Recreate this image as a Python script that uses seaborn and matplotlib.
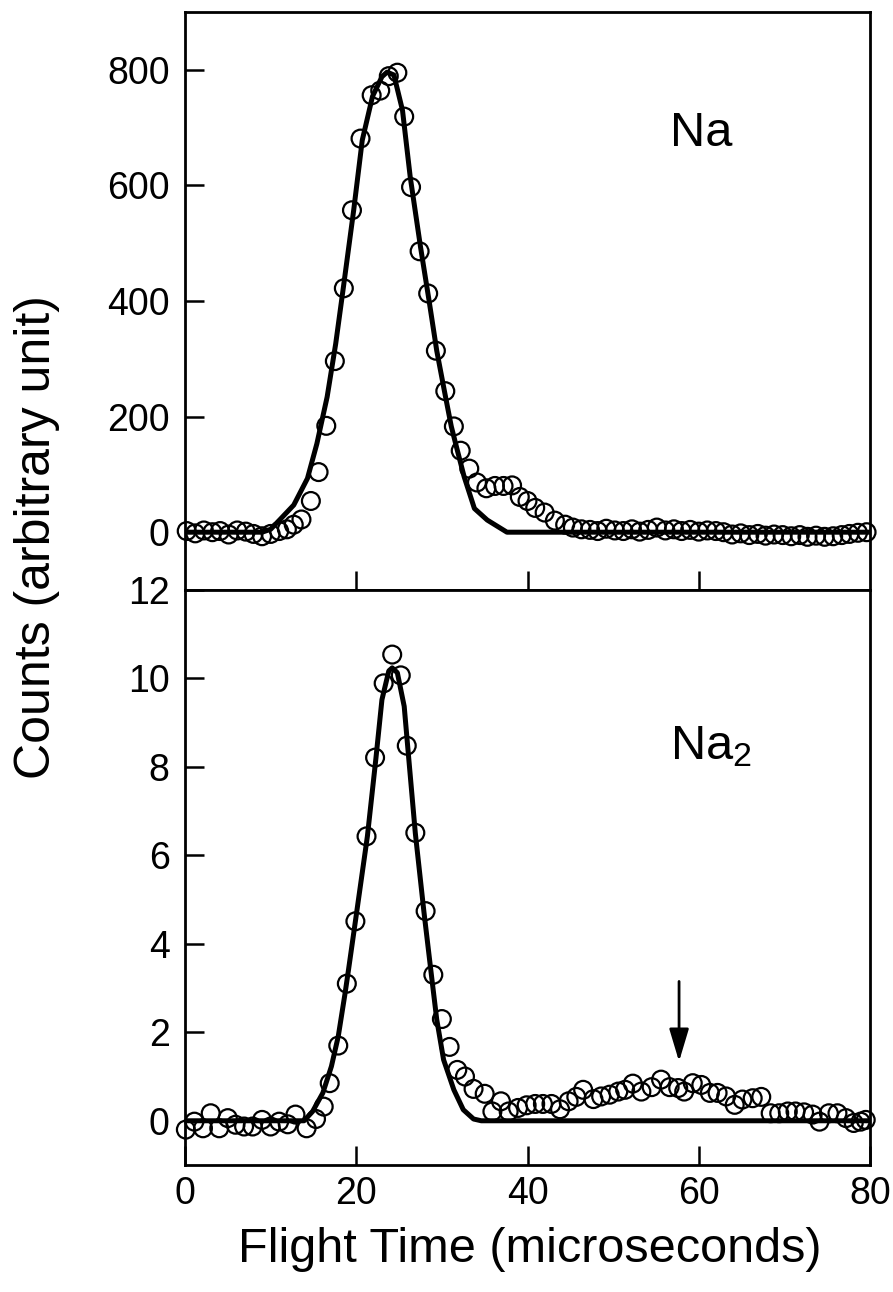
import matplotlib
matplotlib.use("Agg")
import matplotlib.pyplot as plt
import seaborn as sns
import pandas as pd

# ---------------- data ----------------
# Na (top panel): measured points
na_t = [0.2, 1.2, 2.2, 3.2, 4.1, 5.1, 6.1, 7.1, 8.0, 9.0, 10.0, 11.0, 11.9, 12.7,
        13.6, 14.7, 15.6, 16.5, 17.5, 18.55, 19.5, 20.5, 21.8, 22.8, 23.8, 24.8,
        25.6, 26.4, 27.4, 28.4, 29.3, 30.4, 31.4, 32.2, 33.2, 34.1, 35.2, 36.2,
        37.2, 38.2, 39.1, 40.0, 40.9, 42.0, 43.2, 44.4, 45.3, 46.3, 47.3, 48.2,
        49.2, 50.2, 51.2, 52.2, 53.1, 54.1, 55.1, 56.1, 57.1, 58.0, 59.0, 60.0,
        61.0, 62.0, 62.9, 63.9, 64.9, 65.9, 66.9, 67.8, 68.8, 69.8, 70.8, 71.8,
        72.7, 73.7, 74.7, 75.7, 76.7, 77.6, 78.6, 79.6]
na_counts = [2, -2, 3, 0, 2, -4, 3, 1, -3, -7, -3, 2, 5, 13,
             22, 54, 104, 184, 296, 422, 557, 681, 756, 764, 789, 795,
             719, 597, 486, 413, 314, 244, 183, 141, 110, 86, 76, 80,
             80, 81, 61, 54, 42, 34, 20, 13, 8, 5, 4, 2,
             6, 3, 2, 5, 1, 4, 8, 3, 5, 2, 4, 1,
             3, 2, 0, -4, -2, -5, -3, -6, -4, -5, -7, -5,
             -8, -6, -8, -7, -5, -3, -1, 0]
# Na fit curve
na_fit_t = [0.0, 9.0, 10.0, 11.1, 12.7, 14.3, 15.4, 16.6, 17.6, 18.5, 19.7, 20.7,
            21.9, 23.0, 23.6, 24.4, 25.4, 26.3, 27.5, 28.5, 29.4, 30.3, 31.1,
            31.8, 32.6, 33.8, 35.3, 37.6, 80.0]
na_fit = [0, 0, 5, 22, 47, 93, 153, 234, 326, 424, 557, 678,
          754, 788, 796, 791, 730, 615, 494, 401, 314, 244, 183,
          142, 96, 41, 21, 0, 0]

# Na2 (bottom panel): measured points
na2_t = [0.1, 1.1, 2.1, 3.0, 4.0, 5.0, 5.9, 6.9, 7.9, 9.0, 10.0, 11.0, 12.0, 12.9,
         14.2, 15.3, 16.2, 16.9, 17.9, 18.9, 19.9, 21.2, 22.2, 23.2, 24.2, 25.2,
         25.9, 26.9, 28.1, 29.0, 30.0, 30.9, 31.8, 32.7, 33.7, 35.0, 35.9, 36.9,
         37.8, 38.9, 39.9, 40.9, 41.8, 42.8, 43.8, 44.8, 45.7, 46.5, 47.7, 48.6,
         49.6, 50.6, 51.4, 52.3, 53.3, 54.5, 55.6, 56.6, 57.6, 58.3, 59.3, 60.3,
         61.3, 62.2, 63.2, 64.2, 65.1, 66.3, 67.3, 68.4, 69.4, 70.4, 71.3, 72.3,
         73.3, 74.1, 75.2, 76.2, 77.2, 78.1, 78.9, 79.5]
na2_counts = [-0.20, -0.02, -0.17, 0.17, -0.17, 0.06, -0.09, -0.13, -0.13, 0.02,
              -0.13, -0.02, -0.08, 0.14, -0.17, 0.04, 0.32, 0.85, 1.70, 3.10,
              4.51, 6.43, 8.21, 9.89, 10.54, 10.07, 8.48, 6.51, 4.74, 3.30,
              2.30, 1.67, 1.15, 1.00, 0.72, 0.61, 0.21, 0.44, 0.21, 0.29,
              0.35, 0.38, 0.38, 0.38, 0.26, 0.44, 0.54, 0.70, 0.49, 0.55,
              0.59, 0.66, 0.70, 0.84, 0.66, 0.76, 0.93, 0.76, 0.74, 0.66,
              0.85, 0.81, 0.63, 0.63, 0.55, 0.36, 0.48, 0.51, 0.54, 0.17,
              0.17, 0.21, 0.21, 0.19, 0.14, -0.02, 0.17, 0.17, 0.06, -0.05,
              -0.02, 0.02]
# Na2 fit curve
na2_fit_t = [0.0, 13.9, 14.9, 16.1, 17.1, 17.9, 18.7, 19.1, 19.9, 21.3, 22.3, 23.0,
             23.8, 24.2, 24.8, 25.6, 26.0, 26.9, 27.9, 28.7, 29.4, 30.2, 31.4,
             32.5, 33.7, 34.6, 80.0]
na2_fit = [0.0, 0.0, 0.21, 0.63, 1.23, 1.91, 2.89, 3.42, 4.51, 6.43, 8.20, 9.52,
           10.17, 10.24, 10.13, 9.37, 8.48, 6.50, 4.73, 3.42, 2.29, 1.38, 0.70,
           0.25, 0.04, 0.0, 0.0]

top_yticks = [0, 200, 400, 600, 800]
bot_yticks = [0, 2, 4, 6, 8, 10, 12]
xticks = [0, 20, 40, 60, 80]
arrow_x = 57.7
arrow_from, arrow_to = 3.15, 1.34

# ---------------- style ----------------
sns.set_theme(style="ticks")
plt.rcParams["font.family"] = ["Liberation Sans", "DejaVu Sans"]
plt.rcParams["mathtext.fontset"] = "custom"
plt.rcParams["mathtext.rm"] = "Liberation Sans"
plt.rcParams["mathtext.default"] = "regular"

fig = plt.figure(figsize=(8.93, 12.92), dpi=100)
L, W = 185 / 893, (870 - 185) / 893
ax1 = fig.add_axes([L, 1 - 590 / 1292, W, 578 / 1292])
ax2 = fig.add_axes([L, 1 - 1165 / 1292, W, 575 / 1292])

df_top = pd.DataFrame({"t": na_t, "c": na_counts})
df_topfit = pd.DataFrame({"t": na_fit_t, "c": na_fit})
df_bot = pd.DataFrame({"t": na2_t, "c": na2_counts})
df_botfit = pd.DataFrame({"t": na2_fit_t, "c": na2_fit})

mk = dict(marker="o", s=165, facecolor="none", edgecolor="black",
          linewidth=1.6, clip_on=False, zorder=3, legend=False)

for ax, dpts, dfit in [(ax1, df_top, df_topfit), (ax2, df_bot, df_botfit)]:
    sns.lineplot(data=dfit, x="t", y="c", ax=ax, color="black", lw=3.6,
                 zorder=4, sort=False, estimator=None)
    sns.scatterplot(data=dpts, x="t", y="c", ax=ax, **mk)
    ax.set_xlim(0, 80)
    ax.set_xlabel("")
    ax.set_ylabel("")
    for sp in ax.spines.values():
        sp.set_linewidth(2.0)
        sp.set_color("black")
    ax.tick_params(axis="both", direction="in", length=14, width=1.8,
                   colors="black", labelsize=27, top=False, right=False)
    ax.tick_params(axis="y", pad=11)
    ax.tick_params(axis="x", pad=8)

ax1.set_ylim(-100, 900)
ax1.set_yticks(top_yticks)
ax1.set_xticks([20, 40, 60])
ax1.tick_params(axis="x", labelbottom=False)

ax2.set_ylim(-1, 12)
ax2.set_yticks(bot_yticks)
ax2.set_xticks(xticks)

ax1.text(56.6, 690, "Na", fontsize=35, ha="left", va="center", color="black")
ax2.text(56.6, 8.45, "Na$_2$", fontsize=35, ha="left", va="center", color="black")

ax2.annotate("", xy=(arrow_x, arrow_to), xytext=(arrow_x, arrow_from),
             arrowprops=dict(arrowstyle="-|>,head_length=1.0,head_width=0.3",
                             mutation_scale=20, lw=2.0, color="black",
                             shrinkA=0, shrinkB=0))

fig.text(530 / 893, 1 - 1250 / 1292, "Flight Time (microseconds)", fontsize=35,
         ha="center", va="center", color="black")
fig.text(37 / 893, 1 - 537 / 1292, "Counts (arbitrary unit)", fontsize=36,
         rotation=90, ha="center", va="center", color="black")

fig.savefig("out.png", dpi=100)
